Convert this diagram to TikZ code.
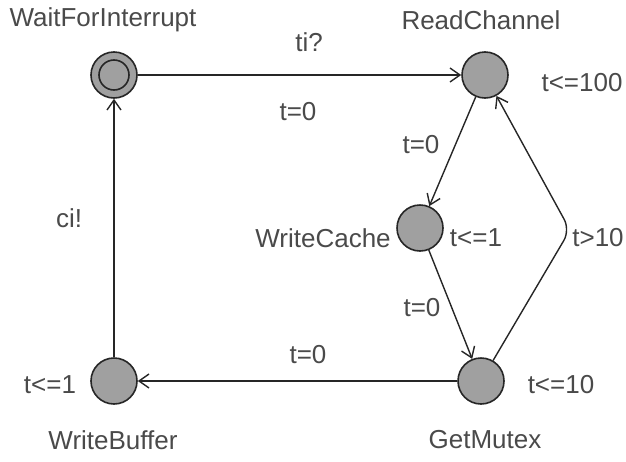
\documentclass[tikz,border=0pt]{standalone}
\usepackage{fontspec}
\setmainfont{Liberation Sans}
\usetikzlibrary{arrows.meta}

\begin{document}
\begin{tikzpicture}[x=0.5pt,y=-0.5pt]
\definecolor{locFill}{HTML}{A0A0A0}
\definecolor{locLine}{HTML}{262626}
\definecolor{labText}{HTML}{4A4A4A}
\tikzset{
  loc/.style={circle,draw=locLine,fill=locFill,line width=0.8pt,minimum size=23pt,inner sep=0pt},
  lab/.style={text=labText,font=\fontsize{13}{15}\selectfont,inner sep=0pt},
  trans/.style={draw=locLine,line width=0.7pt,-{Straight Barb[length=5pt,width=7pt]}}
}
\useasboundingbox (0,0) rectangle (626,461);
% locations
\node[loc] (wfi) at (114,75) {};
\draw[locLine,line width=0.8pt] (wfi.center) circle (15);
\node[loc] (rc) at (485,75) {};
\node[loc] (wc) at (420,228) {};
\node[loc] (gm) at (481,381) {};
\node[loc] (wb) at (114,381) {};
\coordinate (bend) at (570,230);
% names and invariants
\node[lab] (wfiName) at (103,20) {WaitForInterrupt};
\node[lab] (rcName) at (481,20) {ReadChannel};
\node[lab] (rcInv) at (582,83) {t<=100};
\node[lab] (wcName) at (323,238) {WriteCache};
\node[lab] (wcInv) at (476,238) {t<=1};
\node[lab] (gmInv) at (561,385) {t<=10};
\node[lab] (gmName) at (485,440) {GetMutex};
\node[lab] (wbInv) at (50,385) {t<=1};
\node[lab] (wbName) at (113,440) {WriteBuffer};
% transitions
\draw[trans] (wfi) -- (rc);
\draw[trans] (rc) -- (wc);
\draw[trans] (wc) -- (gm);
\draw[trans,rounded corners=6pt] (gm) -- (bend) -- (rc);
\draw[trans] (gm) -- (wb);
\draw[trans] (wb) -- (wfi);
\node[lab] (tiSync) at (309,42) {ti?};
\node[lab] (tiUpd) at (298,112) {t=0};
\node[lab] (rcUpd) at (421,145) {t=0};
\node[lab] (wcUpd) at (422,308) {t=0};
\node[lab] (bendGuard) at (598,238) {t>10};
\node[lab] (gmUpd) at (308,355) {t=0};
\node[lab] (ciSync) at (69,218) {ci!};
\end{tikzpicture}
\end{document}
